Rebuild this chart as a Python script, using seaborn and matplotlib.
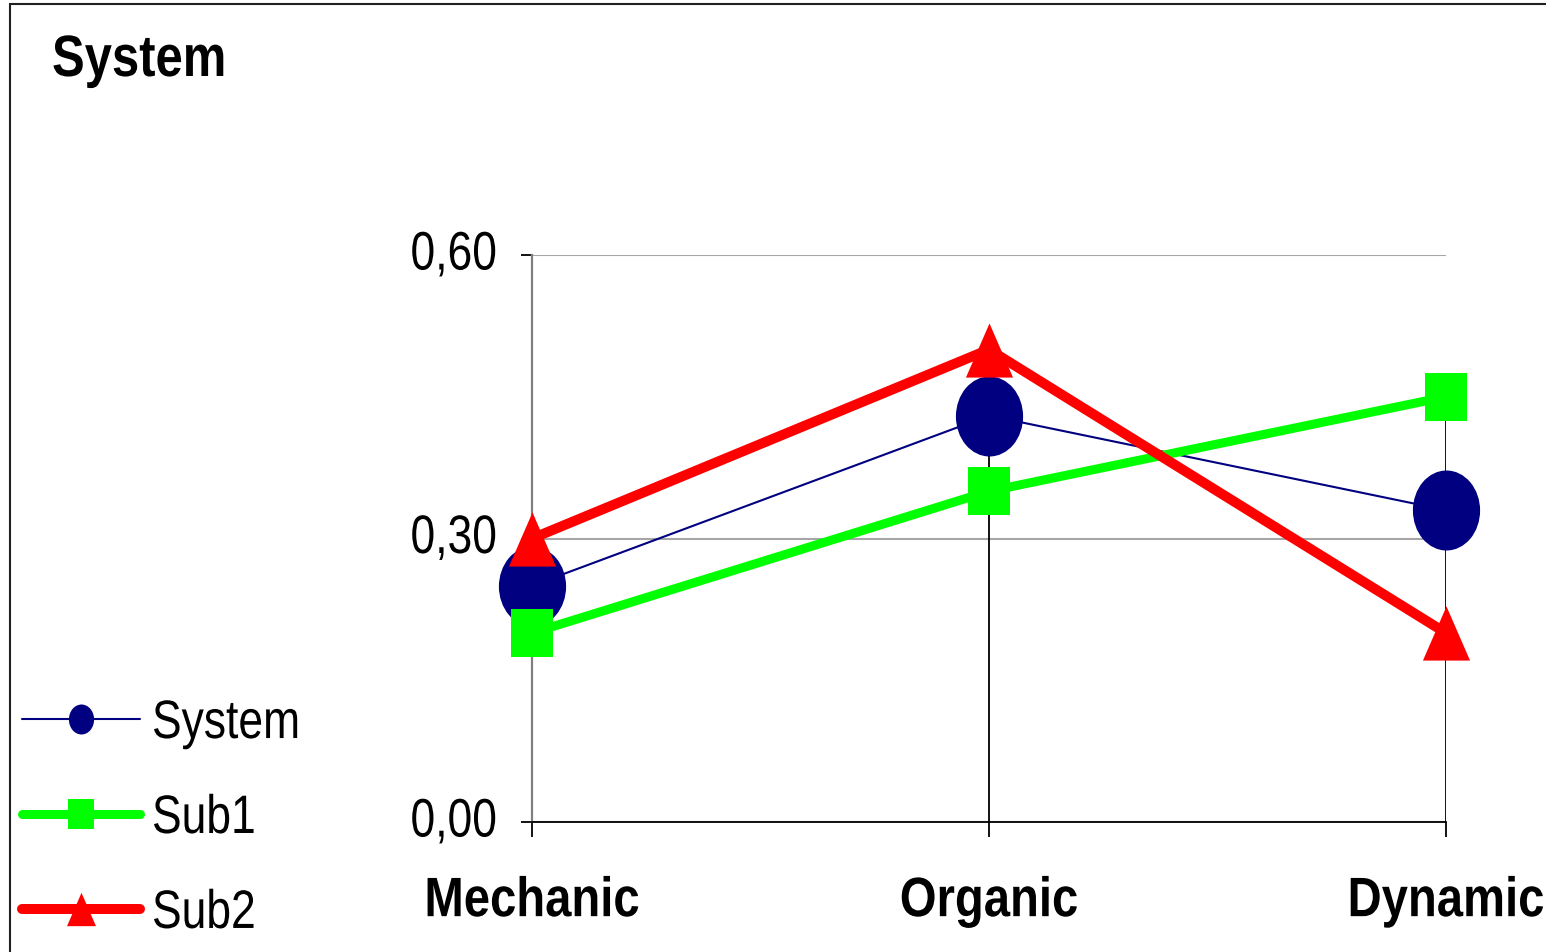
import numpy as np
import pandas as pd
import seaborn as sns
import matplotlib
matplotlib.use("Agg")
import matplotlib.pyplot as plt
from matplotlib.path import Path
from matplotlib.lines import Line2D
from matplotlib.patches import Rectangle
from matplotlib.patheffects import AbstractPathEffect
from matplotlib.transforms import Affine2D

# data
categories = ["Mechanic", "Organic", "Dynamic"]
system_vals = [0.25, 0.43, 0.33]
sub1_vals = [0.20, 0.35, 0.45]
sub2_vals = [0.30, 0.50, 0.20]
y_ticks = [0.0, 0.3, 0.6]

df = pd.DataFrame({
    "category": categories * 3,
    "value": system_vals + sub1_vals + sub2_vals,
    "series": ["System"] * 3 + ["Sub1"] * 3 + ["Sub2"] * 3,
})

sns.set_style("white")
plt.rcParams["font.family"] = ["Liberation Sans", "DejaVu Sans"]
plt.rcParams["text.color"] = "black"
plt.rcParams["xtick.color"] = "black"
plt.rcParams["ytick.color"] = "black"


# no narrow font installed, so squeeze the glyphs sideways (arial narrow look)
class Narrow(AbstractPathEffect):
    def __init__(self, sx=0.83, anchor="center", dy=0):
        super().__init__()
        self.sx = sx
        self.anchor = anchor
        self.dy = dy

    def draw_path(self, renderer, gc, tpath, affine, rgbFace=None):
        xs = tpath.vertices[:, 0]
        if self.anchor == "left":
            cx = 0
        elif self.anchor == "right":
            cx = xs.max()
        else:
            cx = (xs.min() + xs.max()) / 2
        squeeze = Affine2D().translate(-cx, 0).scale(self.sx, 1).translate(cx, 0)
        shift = Affine2D().translate(0, self.dy)
        renderer.draw_path(gc, tpath, squeeze + affine + shift, rgbFace)


# slightly tall markers, like the stretched excel picture
circ = Path.unit_circle()
ellipse = Path(circ.vertices * [0.84, 1.0], circ.codes)
square = Path([(-0.86, -1), (0.86, -1), (0.86, 1), (-0.86, 1), (-0.86, -1)],
              [Path.MOVETO, Path.LINETO, Path.LINETO, Path.LINETO, Path.CLOSEPOLY])
triangle = Path([(0, 1), (-0.87, -1), (0.87, -1), (0, 1)],
                [Path.MOVETO, Path.LINETO, Path.LINETO, Path.CLOSEPOLY])

styles = {
    "System": dict(color="#000080", lw=1.5, marker=ellipse, ms=57.6, lms=21.6),
    "Sub1": dict(color="#00ff00", lw=6.5, marker=square, ms=35, lms=21),
    "Sub2": dict(color="#ff0000", lw=7.2, marker=triangle, ms=39, lms=24),
}

fig = plt.figure(figsize=(15.46, 9.53), dpi=100)
ax = fig.add_axes([532 / 1546, 1 - 823 / 953, 914 / 1546, 567 / 953])

for name, st in styles.items():
    sub = df[df["series"] == name]
    sns.lineplot(data=sub, x="category", y="value", ax=ax, sort=False, errorbar=None,
                 color=st["color"], linewidth=st["lw"], marker=st["marker"],
                 markersize=st["ms"], markeredgewidth=0, clip_on=False, zorder=3,
                 legend=False)

# drop lines from the highest point of each category
tops = np.max([system_vals, sub1_vals, sub2_vals], axis=0)
ax.vlines(range(len(categories)), 0, tops, color="black", lw=1.3, zorder=1.5)

ax.set_xlim(0, len(categories) - 1)
ax.set_ylim(0, 0.6)
ax.set_yticks(y_ticks)
ax.set_yticklabels([f"{v:.2f}".replace(".", ",") for v in y_ticks], fontsize=39)
ax.set_xticks(range(len(categories)))
ax.set_xticklabels(categories, fontsize=40, fontweight="bold")
ax.set_xlabel("")
ax.set_ylabel("")

ax.yaxis.grid(True, color="#a6a6a6", lw=1.5)
ax.xaxis.grid(False)
ax.set_axisbelow(True)
for s in ["top", "right"]:
    ax.spines[s].set_visible(False)
ax.spines["left"].set_color("#808080")
ax.spines["left"].set_linewidth(1.6)
ax.spines["bottom"].set_color("black")
ax.spines["bottom"].set_linewidth(1.3)
ax.tick_params(axis="y", direction="out", left=True, length=8, width=1.3, color="black", pad=17)
ax.tick_params(axis="x", direction="out", bottom=True, length=11, width=1.3, color="black", pad=28)

for t in ax.get_yticklabels():
    t.set_path_effects([Narrow(0.82, "right", dy=5)])
for t in ax.get_xticklabels():
    t.set_path_effects([Narrow(0.85, "center")])

# legend at lower left, no frame
handles = [Line2D([], [], color=st["color"], lw=st["lw"], marker=st["marker"],
                  markersize=st["lms"], markeredgewidth=0, solid_capstyle="round")
           for st in styles.values()]
leg = fig.legend(handles, list(styles.keys()), loc="center left",
                 bbox_to_anchor=(22 / 1546, 1 - 820 / 953), frameon=False, fontsize=39,
                 borderpad=0, borderaxespad=0, handlelength=2.18, handletextpad=0.22,
                 labelspacing=0.83)
for t in leg.get_texts():
    t.set_path_effects([Narrow(0.82, "left")])

title = fig.text(52 / 1546, 1 - 77 / 953, "System", fontsize=42, fontweight="bold",
                 ha="left", va="baseline")
title.set_path_effects([Narrow(0.84, "left")])

# outer chart border (left and top edges show)
fig.add_artist(Rectangle((10 / 1546, -0.5), 2, 1.5 - 5 / 953, transform=fig.transFigure,
                         fill=False, edgecolor="#202020", lw=1.5))

plt.savefig("out.png", dpi=100)
